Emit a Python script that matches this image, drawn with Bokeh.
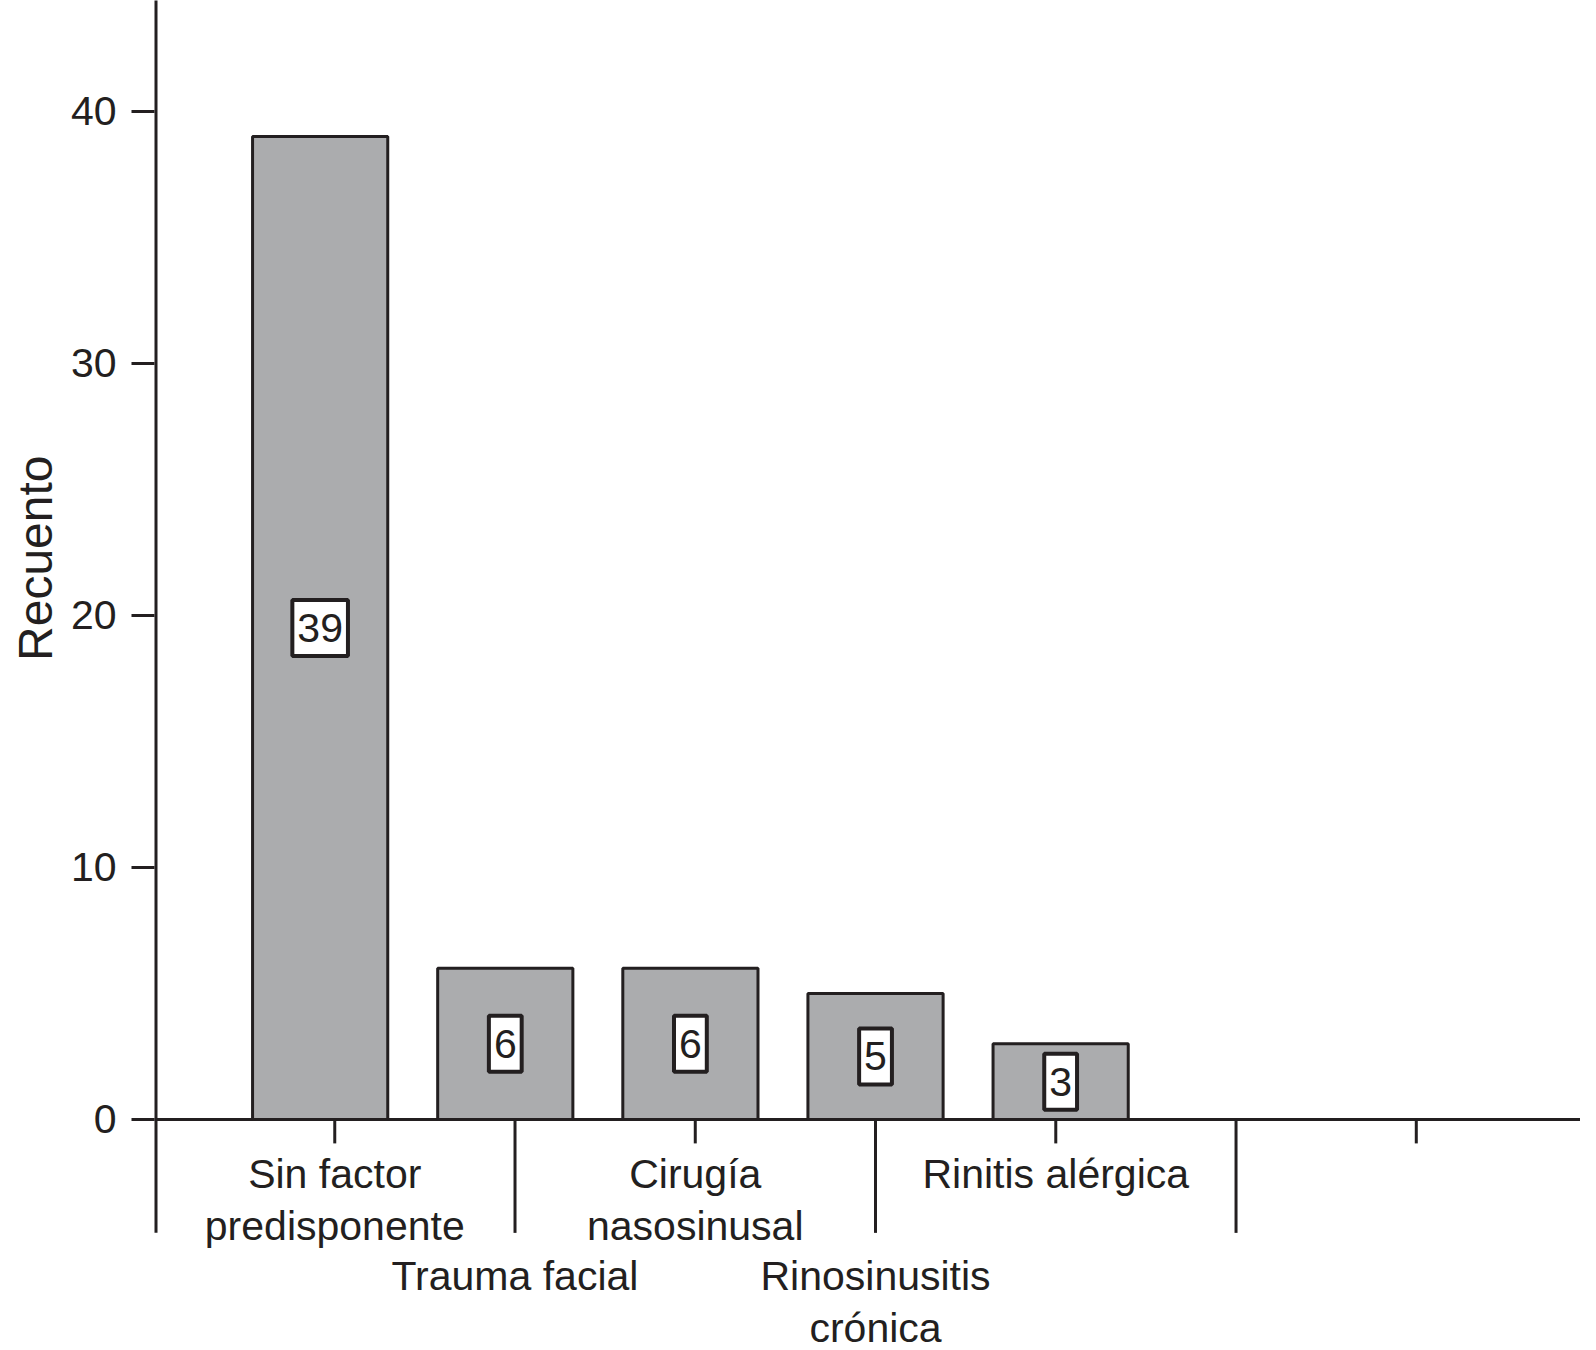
from bokeh.plotting import figure
from bokeh.models import Range1d, FixedTicker, Title
from bokeh.core.properties import value
from bokeh.embed import file_html
from bokeh.resources import INLINE

# ---- data ----
categories = ["Sin factor\npredisponente", "Trauma facial", "Cirugía\nnasosinusal",
              "Rinosinusitis\ncrónica", "Rinitis alérgica", "", ""]
counts = [39, 6, 6, 5, 3]
y_ticks = [0, 10, 20, 30, 40]
y_label = "Recuento"

INK = "#231f20"
BAR = "#abacae"
FONT = "Liberation Sans"
FS = "41px"

n_cat = len(categories)
x_pos = list(range(1, n_cat + 1))
# bars sit on a slightly wider pitch than the category ticks, pivoting on the 4th
bar_pitch = 1.027
bar_x = [4 + (i - 4) * bar_pitch for i in x_pos[:len(counts)]]

p = figure(width=1580, height=1342, output_backend="svg", toolbar_location=None,
           x_range=Range1d(0, 7.911), y_range=Range1d(-8.85, 44.4),
           x_axis_location=None, min_border_left=154, min_border_right=0,
           min_border_top=0, min_border_bottom=0)
p.outline_line_color = None
p.grid.visible = False
p.background_fill_color = "white"
p.border_fill_color = "white"

# y axis (ticks + labels); line drawn separately
ya = p.yaxis[0]
ya.ticker = FixedTicker(ticks=y_ticks)
ya.axis_line_color = None
ya.major_tick_out = 23
ya.major_tick_in = 0
ya.minor_tick_out = 0
ya.minor_tick_in = 0
ya.major_tick_line_width = 3
ya.major_tick_line_color = INK
ya.major_label_standoff = 15
ya.major_label_text_font = FONT
ya.major_label_text_font_size = FS
ya.major_label_text_color = INK

# axis title, centred on the 0..top span of the value axis
p.add_layout(Title(text=y_label, align="right", offset=455, standoff=11,
                   text_font=FONT, text_font_size="48px", text_font_style="normal",
                   text_color=INK), "left")

# axis lines
p.segment(x0=[0], y0=[-4.5], x1=[0], y1=[45], line_color=INK, line_width=6)
p.segment(x0=[0], y0=[0], x1=[8], y1=[0], line_color=INK, line_width=3)

# category ticks: alternating short / long
tick_len = [0.95 if (i % 2 == 1) else 4.5 for i in x_pos]
p.segment(x0=x_pos, y0=[0] * n_cat, x1=x_pos, y1=[-t for t in tick_len],
          line_color=INK, line_width=3)

# bars
p.vbar(x=bar_x, top=counts, bottom=0, width=0.75, fill_color=BAR,
       line_color=INK, line_width=3)

# value boxes
p.text(x=bar_x, y=[c / 2 for c in counts], text=[str(c) for c in counts],
       text_align="center", text_baseline="middle", text_font=value(FONT),
       text_font_size=FS, text_color=INK, background_fill_color="white",
       border_line_color=INK, border_line_width=4,
       padding=dict(left=5, right=5, top=14, bottom=14))

# staggered category labels
offsets = [32 if (i % 2 == 1) else 134 for i in x_pos]
p.text(x=x_pos, y=[0] * n_cat, y_offset=offsets, text=categories,
       text_align="center", text_baseline="top", text_font=value(FONT),
       text_font_size=FS, text_color=INK, text_line_height=1.12)

open("out.html", "w").write(file_html(p, INLINE))
